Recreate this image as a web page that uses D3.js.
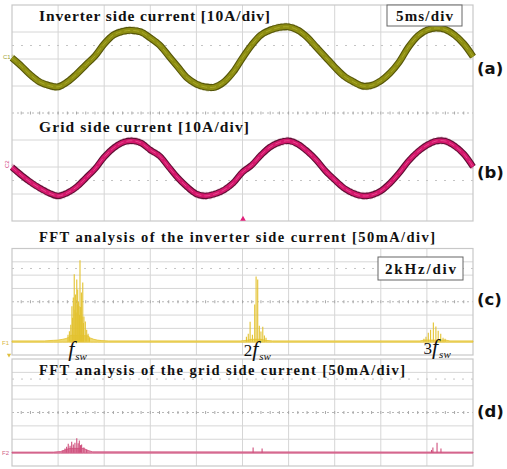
<!DOCTYPE html>
<html>
<head>
<meta charset="utf-8">
<script src="https://cdn.jsdelivr.net/npm/d3@7"></script>
<style>
  html, body { margin: 0; padding: 0; background: #fff; }
  svg { display: block; }
</style>
</head>
<body>
<svg id="canvas" width="507" height="469"></svg>
<script>
// time base of the scope, ms (5 ms/div, 10 div)
var timeMs = [0,1,2,3,4,5,6,7,8,9,10,11,12,13,14,15,16,17,18,19,20,
	21,22,23,24,25,26,27,28,29,30,31,32,33,34,35,36,37,38,39,40,
	41,42,43,44,45,46,47,48,49,50];

// inverter side current, A (10 A/div)
var invCurrent = [0.4,-2.6,-5.9,-8.5,-9.8,-10.3,-8.5,-5.6,-2.2,1.1,5.6,
	8.9,10.2,10.6,10.0,7.8,5.2,1.1,-3.0,-7.0,-9.3,
	-10.4,-10.4,-8.5,-4.8,0.4,5.2,8.9,10.7,11.7,11.9,
	10.7,8.1,4.4,0.7,-3.0,-6.3,-8.4,-10.0,-9.8,-8.1,
	-5.2,-1.1,4.4,8.5,10.7,11.5,10.9,8.9,5.6,0.9];

// grid side current, A (10 A/div)
var gridCurrent = [-0.1,-3.0,-5.6,-7.8,-9.6,-10.7,-9.6,-7.4,-4.1,-0.7,3.7,
	7.0,9.1,9.7,8.9,6.3,4.1,0.0,-4.1,-7.4,-10.0,
	-10.7,-10.0,-8.5,-5.9,-1.9,0.7,4.4,7.4,9.1,9.7,
	8.5,5.9,2.6,-1.5,-4.8,-7.8,-9.7,-10.7,-10.4,-8.9,
	-6.0,-2.2,2.2,5.6,8.1,9.6,9.6,7.8,4.8,0.1];

// FFT of inverter side current: spectral lines (kHz, mA)
var invSpikeFreq = [7.43,7.49,7.55,7.60,7.63,7.66,7.70,7.73,7.75,7.78,7.81,7.83,7.85,7.88,7.91,7.93,7.95,7.98,8.01,8.04,8.07,8.10,8.12,8.18,8.24,8.30,8.36,
	15.17,15.25,15.33,15.43,15.53,15.59,15.66,15.73,15.80,15.88,15.95,16.02,
	22.87,22.96,23.06,23.16,23.28,23.39,23.49,23.60,23.70,23.79];
var invSpikeMag = [26,39,64,133,90,166,253,120,177,110,234,140,196,150,133,100,306,130,185,95,222,70,95,76,45,30,15,
	19,30,75,26,140,245,234,60,38,56,23,15,
	11,19,34,45,72,57,41,30,15,11];
// noise floor of the inverter side spectrum
var invFloorFreq = [5,6.4,6.8,7.0,7.2,7.35,7.45,7.55,8.3,8.4,8.55,8.7,8.9,9.2,14.9,15.2,15.4,15.8,16.0,16.3,22.7,22.9,23.8,24.0,25];
var invFloorMag = [3,3,5,6,9,12,16,24,22,14,9,6,4,3,3,5,9,9,5,3,3,6,6,3,3];

// FFT of grid side current: spectral lines (kHz, mA)
var gridSpikeFreq = [7.21,7.30,7.37,7.44,7.52,7.59,7.66,7.73,7.81,7.87,7.92,7.97,8.02,8.12,8.24,15.46,15.85,23.20,23.26,23.44,23.61];
var gridSpikeMag = [8,15,22,33,26,41,30,37,54,35,45,28,30,19,11,19,15,10,19,37,15];
var gridFloorFreq = [5,6.8,7.1,7.3,7.5,8.1,8.3,8.5,25];
var gridFloorMag = [2,2,4,10,16,16,8,3,2];

// harmonic markers under spectrum (c)
var harmPrefix = ["", "2", "3"];
var harmFreq = [7.8, 15.6, 23.4];

var svg = d3.select("#canvas");

// screen geometry
var X0 = 12, X1 = 473;
var xT = d3.scaleLinear().domain([0, 50]).range([X0, X1]);
var xF = d3.scaleLinear().domain([5, 25]).range([X0, X1]);
var yCh1 = d3.scaleLinear().domain([-60, 20]).range([221, 5]);
var yCh2 = d3.scaleLinear().domain([-20, 60]).range([221, 5]);
var yFc = d3.scaleLinear().domain([-50, 350]).range([355, 248.5]);
var yFd = d3.scaleLinear().domain([-50, 350]).range([466, 359]);

function drawGrid(y0, y1, dottedRows){
	var g = svg.append("g");
	var dx = (X1 - X0) / 10, dy = (y1 - y0) / 8;
	var i;
	for (i = 1; i < 10; i++){
		g.append("line")
			.attr("x1", X0 + i * dx).attr("x2", X0 + i * dx)
			.attr("y1", y0).attr("y2", y1)
			.attr("stroke", "#d6d6d6").attr("stroke-width", 1);
	}
	for (i = 1; i < 8; i++){
		if (i == 4) continue;
		g.append("line")
			.attr("x1", X0).attr("x2", X1)
			.attr("y1", y0 + i * dy).attr("y2", y0 + i * dy)
			.attr("stroke", "#d6d6d6").attr("stroke-width", 1);
	}
	dottedRows.forEach(function(r){
		g.append("line")
			.attr("x1", X0).attr("x2", X1)
			.attr("y1", y0 + r * dy).attr("y2", y0 + r * dy)
			.attr("stroke", "#c4c4c4").attr("stroke-width", 1)
			.attr("stroke-dasharray", "2,7");
	});
	// center line with small ticks
	var cy = y0 + 4 * dy;
	g.append("line")
		.attr("x1", X0).attr("x2", X1).attr("y1", cy).attr("y2", cy)
		.attr("stroke", "#b8b8b8").attr("stroke-width", 1)
		.attr("stroke-dasharray", "2,3");
	for (i = 1; i < 50; i++){
		g.append("line")
			.attr("x1", X0 + i * dx / 5).attr("x2", X0 + i * dx / 5)
			.attr("y1", cy - 1.5).attr("y2", cy + 1.5)
			.attr("stroke", "#a8a8a8").attr("stroke-width", 1);
	}
	g.append("rect")
		.attr("x", X0).attr("y", y0)
		.attr("width", X1 - X0).attr("height", y1 - y0)
		.attr("fill", "none").attr("stroke", "#c8c8c8").attr("stroke-width", 1.2);
}

drawGrid(5, 221, [1.5, 6.5]);
drawGrid(248.5, 355, [1.5]);
drawGrid(359, 466, [1.5]);

// waveforms
function drawWave(values, yScale, cols){
	var line = d3.line()
		.x(function(d, i){ return xT(timeMs[i]); })
		.y(function(d){ return yScale(d); })
		.curve(d3.curveCatmullRom);
	var g = svg.append("g");
	[-2.8, 2.8].forEach(function(off){
		g.append("path").attr("d", line(values))
			.attr("transform", "translate(0," + off + ")")
			.attr("fill", "none").attr("stroke", cols[0])
			.attr("stroke-width", 2.5).attr("stroke-opacity", 0.6)
			.attr("stroke-dasharray", "3,1,2,2");
	});
	g.append("path").attr("d", line(values))
		.attr("fill", "none").attr("stroke", cols[1]).attr("stroke-width", cols[4]);
	g.append("path").attr("d", line(values))
		.attr("fill", "none").attr("stroke", cols[2]).attr("stroke-width", cols[4] - 2.2);
	g.append("path").attr("d", line(values))
		.attr("fill", "none").attr("stroke", cols[3]).attr("stroke-width", 1)
		.attr("stroke-dasharray", "6,3");
}

drawWave(invCurrent, yCh1, ["#bcbc78", "#55550a", "#8e8e12", "#a8a82a", 7]);
drawWave(gridCurrent, yCh2, ["#d08aaa", "#5e1034", "#d4176c", "#e8488e", 6.5]);

// spectra
function drawSpectrum(freqs, mags, floorF, floorM, yScale, cols){
	var g = svg.append("g");
	var area = d3.area()
		.x(function(d, i){ return xF(floorF[i]); })
		.y0(yScale(0) + 0.5)
		.y1(function(d){ return yScale(d); });
	g.append("path").attr("d", area(floorM))
		.attr("fill", cols[1]).attr("stroke", cols[0]).attr("stroke-width", 0.8);
	g.selectAll("line.sp")
		.data(mags)
		.enter()
		.append("line")
		.attr("class", "sp")
		.attr("x1", function(d, i){ return xF(freqs[i]); })
		.attr("x2", function(d, i){ return xF(freqs[i]); })
		.attr("y1", yScale(0))
		.attr("y2", function(d){ return yScale(d); })
		.attr("stroke", cols[0]).attr("stroke-width", 1.1);
}

drawSpectrum(invSpikeFreq, invSpikeMag, invFloorFreq, invFloorMag, yFc, ["#e3c230", "#efd970"]);
drawSpectrum(gridSpikeFreq, gridSpikeMag, gridFloorFreq, gridFloorMag, yFd, ["#cf4f7c", "#e08aa8"]);

// channel markers
svg.append("text").attr("x", 3).attr("y", 59).text("C1")
	.attr("font-family", "Liberation Sans").attr("font-size", 6).attr("fill", "#a0a030");
svg.append("text").attr("transform", "translate(9,168) rotate(-90)").text("C2")
	.attr("font-family", "Liberation Sans").attr("font-size", 6).attr("fill", "#d04080");
svg.append("text").attr("x", 2).attr("y", 345).text("F1")
	.attr("font-family", "Liberation Sans").attr("font-size", 6).attr("fill", "#d8b840");
svg.append("text").attr("x", 2).attr("y", 455).text("F2")
	.attr("font-family", "Liberation Sans").attr("font-size", 6).attr("fill", "#d06088");
svg.append("path").attr("d", d3.symbol(d3.symbolTriangle, 14)())
	.attr("transform", "translate(243,219)").attr("fill", "#e0207a");
svg.append("path").attr("d", d3.symbol(d3.symbolTriangle, 8)())
	.attr("transform", "translate(9,355) rotate(180)").attr("fill", "#e0c040");

// titles
var serif = "Liberation Serif, Times New Roman, serif";
var sans = "DejaVu Sans, Verdana, sans-serif";
function title(txt, x, y, w, size){
	svg.append("text").attr("x", x).attr("y", y)
		.attr("font-family", serif).attr("font-weight", "bold")
		.attr("font-size", size).attr("textLength", w)
		.attr("lengthAdjust", "spacing").attr("fill", "#111").text(txt);
}
title("Inverter side current [10A/div]", 39, 21, 231, 15.5);
title("Grid side current [10A/div]", 39, 132, 210, 15.5);
title("FFT analysis of the inverter side current [50mA/div]", 39, 242, 396, 14.5);
title("FFT analysis of the grid side current [50mA/div]", 39, 375, 366, 14.5);

function boxLabel(txt, x, y, w, h, base, tw){
	svg.append("rect").attr("x", x).attr("y", y).attr("width", w).attr("height", h)
		.attr("fill", "#fff").attr("stroke", "#666").attr("stroke-width", 1);
	svg.append("text").attr("x", x + w / 2).attr("y", base)
		.attr("text-anchor", "middle")
		.attr("font-family", serif).attr("font-weight", "bold")
		.attr("font-size", 15).attr("textLength", tw)
		.attr("lengthAdjust", "spacing").attr("fill", "#111").text(txt);
}
boxLabel("5ms/div", 387, 5, 75, 21, 20.5, 57);
boxLabel("2kHz/div", 378, 257, 85, 23, 273.5, 71);

var panelNames = ["(a)", "(b)", "(c)", "(d)"];
var panelBase = [74, 178, 305, 417];
panelNames.forEach(function(p, i){
	svg.append("text").attr("x", 477).attr("y", panelBase[i])
		.attr("font-family", sans).attr("font-weight", "bold")
		.attr("font-size", 16.5).attr("fill", "#111").text(p);
});

// harmonic labels
var harmBase = [356, 356, 354];
harmFreq.forEach(function(f, i){
	var t = svg.append("text").attr("x", xF(f) + 1).attr("y", harmBase[i])
		.attr("text-anchor", "middle")
		.attr("font-family", serif).attr("fill", "#111");
	if (harmPrefix[i]) t.append("tspan").attr("font-size", 17).text(harmPrefix[i]);
	t.append("tspan").attr("font-size", 22).attr("font-style", "italic").text("f");
	t.append("tspan").attr("font-size", 11).attr("font-style", "italic")
		.attr("dy", 4).attr("dx", 1).text("sw");
});
</script>
</body>
</html>
